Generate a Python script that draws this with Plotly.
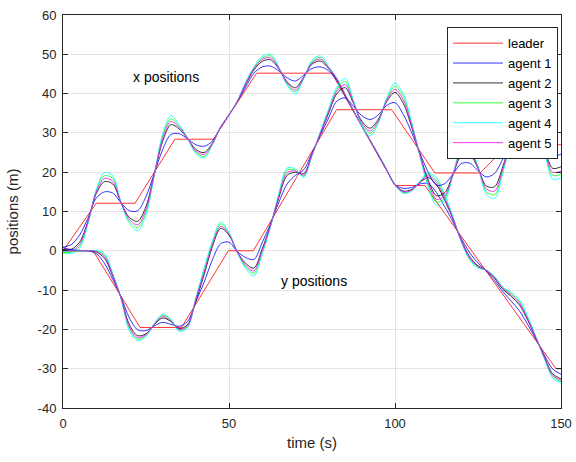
import plotly.graph_objects as go

# sample times (s) for the agent curves
t_samples = [0, 2.5, 5, 7.5, 10, 12.5, 15, 17.5, 20, 22.5,
             25, 27.5, 30, 32.5, 35, 37.5, 40, 42.5, 45, 47.5,
             50, 52.5, 55, 57.5, 60, 62.5, 65, 67.5, 70, 72.5,
             75, 77.5, 80, 82.5, 85, 87.5, 90, 92.5, 95, 97.5,
             100, 102.5, 105, 107.5, 110, 112.5, 115, 117.5, 120, 122.5,
             125, 127.5, 130, 132.5, 135, 137.5, 140, 142.5, 145, 147.5, 150]

# leader trajectories (corner points)
leader_t_x = [0, 10, 21.7, 33.7, 45.3, 58.3, 81, 100, 109, 148.5, 150]
leader_x = [0, 12.1, 12.1, 28.4, 28.4, 45.2, 45.2, 16.6, 16.6, -30, -30]
leader_t_y = [0, 9.1, 23.2, 35.7, 49.8, 57.3, 82.4, 99, 112, 125.6, 134.1, 150]
leader_y = [0, 0, -19.5, -19.5, 0, 0, 35.9, 35.9, 19.8, 19.8, 27, 27]

# x positions of the agents
agent1_x = [0.9, 1.6, 4.0, 8.3, 13.4, 15.0, 14.7, 12.2, 10.2, 10.2,
            13.8, 19.7, 25.7, 29.6, 29.8, 28.5, 27.0, 26.6, 27.9, 31.4,
            34.6, 37.9, 41.6, 45.2, 46.8, 47.0, 45.8, 44.0, 43.2, 44.7,
            46.4, 46.8, 45.8, 43.3, 39.4, 35.6, 31.8, 28.1, 24.3, 20.6,
            16.8, 15.9, 16.1, 17.0, 17.1, 14.8, 11.2, 7.3, 3.1, -0.5,
            -3.1, -5.1, -7.6, -10.4, -12.8, -15.3, -18.8, -22.6, -26.5, -30.1, -31.4]
agent2_x = [0.2, 0.4, 2.2, 7.5, 14.5, 17.6, 17.0, 12.2, 8.5, 7.5,
            11.3, 19.5, 27.8, 32.1, 31.0, 28.6, 25.8, 25.0, 27.4, 31.5,
            34.6, 38.0, 42.3, 46.0, 48.2, 48.6, 46.3, 43.0, 41.5, 44.2,
            47.5, 48.3, 46.4, 43.6, 39.6, 35.6, 31.8, 28.1, 24.4, 20.6,
            16.8, 15.2, 15.6, 17.4, 18.6, 16.8, 12.8, 8.0, 2.6, -1.5,
            -3.8, -5.0, -7.0, -9.8, -11.6, -13.8, -17.7, -22.3, -27.0, -31.3, -32.6]
agent3_x = [-0.6, -0.3, 1.1, 7.1, 15.2, 19.1, 18.4, 12.2, 7.5, 5.9,
            9.8, 19.4, 29.1, 33.6, 31.7, 28.7, 25.1, 24.0, 27.1, 31.6,
            34.6, 38.1, 42.7, 46.5, 49.0, 49.6, 46.6, 42.4, 40.5, 43.9,
            48.1, 49.2, 46.7, 43.8, 39.7, 35.6, 31.8, 28.1, 24.5, 20.6,
            16.8, 14.8, 15.3, 17.6, 19.5, 18.0, 13.7, 8.4, 2.3, -2.1,
            -4.2, -4.9, -6.7, -9.4, -10.9, -12.9, -17.1, -22.1, -27.3, -32.0, -33.3]
agent4_x = [-0.3, -0.7, 0.6, 6.8, 15.5, 19.9, 19.1, 12.2, 7.0, 5.1,
            9.1, 19.3, 29.7, 34.4, 32.1, 28.7, 24.7, 23.6, 27.0, 31.6,
            34.6, 38.1, 42.9, 46.8, 49.5, 50.0, 46.8, 42.1, 39.9, 43.8,
            48.5, 49.6, 46.9, 43.9, 39.8, 35.6, 31.8, 28.1, 24.5, 20.6,
            16.8, 14.6, 15.2, 17.7, 19.9, 18.6, 14.2, 8.6, 2.2, -2.4,
            -4.4, -4.9, -6.5, -9.3, -10.5, -12.5, -16.7, -22.0, -27.5, -32.4, -33.7]
agent5_x = [0.3, 0.0, 1.6, 7.3, 14.9, 18.4, 17.7, 12.2, 8.0, 6.6,
            10.5, 19.4, 28.5, 32.9, 31.4, 28.6, 25.4, 24.5, 27.2, 31.5,
            34.6, 38.0, 42.5, 46.3, 48.7, 49.1, 46.5, 42.7, 40.9, 44.0,
            47.8, 48.8, 46.6, 43.7, 39.7, 35.6, 31.8, 28.1, 24.4, 20.6,
            16.8, 15.0, 15.4, 17.5, 19.1, 17.4, 13.3, 8.2, 2.4, -1.8,
            -4.0, -5.0, -6.8, -9.6, -11.2, -13.3, -17.4, -22.2, -27.2, -31.7, -33.0]

# y positions of the agents
agent1_y = [0.8, 0.3, 0.1, 0.0, -0.7, -3.2, -7.3, -11.8, -17.1, -20.1,
            -20.3, -19.1, -18.2, -18.7, -19.2, -18.0, -13.0, -8.0, -2.3, 1.8,
            2.2, -0.2, -1.7, -2.2, 2.1, 6.9, 12.3, 17.0, 19.2, 20.6,
            24.9, 29.4, 33.8, 38.1, 38.9, 36.7, 34.4, 33.4, 34.6, 37.0,
            37.7, 34.7, 30.1, 24.9, 20.0, 16.7, 17.1, 19.6, 22.2, 22.3,
            20.4, 18.8, 19.7, 23.4, 27.5, 29.9, 30.4, 28.9, 26.4, 24.0, 24.6]
agent2_y = [0.3, 0.1, 0.0, 0.0, -0.3, -1.9, -6.5, -12.0, -18.8, -21.6,
            -21.1, -18.8, -17.1, -18.0, -19.8, -18.8, -12.8, -6.1, 1.1, 5.7,
            4.0, -0.3, -3.2, -4.4, 0.5, 6.5, 13.5, 19.2, 20.0, 19.6,
            24.5, 29.8, 35.0, 40.0, 41.5, 37.5, 33.0, 31.2, 33.5, 38.0,
            40.3, 37.5, 31.5, 24.5, 18.0, 14.0, 14.8, 19.5, 24.3, 24.5,
            21.0, 16.5, 16.3, 21.5, 28.0, 32.5, 33.5, 30.5, 25.8, 21.0, 21.4]
agent3_y = [-0.5, -0.2, 0.0, 0.0, 0.0, -1.1, -6.0, -12.1, -19.8, -22.5,
            -21.5, -18.6, -16.4, -17.6, -20.2, -19.3, -12.2, -5.0, 2.0, 6.8,
            4.5, -0.4, -4.1, -5.7, -0.5, 6.2, 14.2, 20.5, 20.5, 19.0,
            24.3, 30.1, 35.7, 41.1, 43.1, 37.9, 32.2, 29.9, 32.8, 38.6,
            41.9, 39.2, 32.3, 24.2, 16.8, 12.4, 13.4, 19.4, 25.6, 25.8,
            21.3, 15.1, 14.3, 20.4, 28.3, 34.0, 35.3, 31.5, 25.5, 19.2, 19.5]
agent4_y = [-0.2, 0.0, 0.0, 0.0, 0.1, -0.7, -5.8, -12.2, -20.4, -22.9,
            -21.8, -18.5, -16.1, -17.4, -20.5, -19.6, -12.0, -4.4, 2.5, 7.3,
            4.7, -0.4, -4.5, -6.4, -0.9, 6.1, 14.6, 21.1, 20.8, 18.7,
            24.2, 30.2, 36.1, 41.7, 43.9, 38.2, 31.8, 29.2, 32.5, 38.9,
            42.7, 40.0, 32.8, 24.1, 16.2, 11.6, 12.7, 19.4, 26.2, 26.5,
            21.5, 14.4, 13.3, 19.8, 28.4, 34.8, 36.2, 32.0, 25.3, 18.2, 18.6]
agent5_y = [0.0, 0.0, 0.0, 0.0, -0.2, -1.5, -6.2, -12.1, -19.4, -22.1,
            -21.3, -18.7, -16.7, -17.8, -20.0, -19.1, -12.3, -5.5, 1.6, 6.2,
            4.2, -0.3, -3.7, -5.1, 0.0, 6.4, 13.9, 19.9, 20.3, 19.3,
            24.4, 29.9, 35.4, 40.6, 42.3, 37.7, 32.6, 30.5, 33.1, 38.3,
            41.1, 38.4, 32.0, 24.4, 17.4, 13.1, 14.0, 19.5, 25.0, 25.2,
            21.2, 15.8, 15.2, 20.9, 28.2, 33.3, 34.5, 31.0, 25.6, 20.0, 20.3]

names = ["agent 1", "agent 2", "agent 3", "agent 4", "agent 5"]
colors = ["#0000ff", "#000000", "#00ff00", "#00ffff", "#ff00ff"]
agents_x = [agent1_x, agent2_x, agent3_x, agent4_x, agent5_x]
agents_y = [agent1_y, agent2_y, agent3_y, agent4_y, agent5_y]

x_ticks = [0, 50, 100, 150]
y_ticks = [-40, -30, -20, -10, 0, 10, 20, 30, 40, 50, 60]

FONT = "Arial, Liberation Sans, Helvetica, sans-serif"
AX = "#262626"
LW = 0.8

fig = go.Figure()

# x positions group
fig.add_trace(go.Scatter(x=leader_t_x, y=leader_x, mode="lines", name="leader",
                         legendgroup="leader", line=dict(color="#ff0000", width=LW)))
for name, col, vals in zip(names, colors, agents_x):
    fig.add_trace(go.Scatter(x=t_samples, y=vals, mode="lines", name=name, legendgroup=name,
                             line=dict(color=col, width=LW, shape="spline", smoothing=0.9)))

# y positions group
fig.add_trace(go.Scatter(x=leader_t_y, y=leader_y, mode="lines", name="leader",
                         legendgroup="leader", showlegend=False,
                         line=dict(color="#ff0000", width=LW)))
for name, col, vals in zip(names, colors, agents_y):
    fig.add_trace(go.Scatter(x=t_samples, y=vals, mode="lines", name=name, legendgroup=name,
                             showlegend=False,
                             line=dict(color=col, width=LW, shape="spline", smoothing=0.9)))

fig.add_annotation(x=31.0, y=44.3, text="x positions", showarrow=False,
                   font=dict(family=FONT, size=14, color="#000000"))
fig.add_annotation(x=75.6, y=-7.6, text="y positions", showarrow=False,
                   font=dict(family=FONT, size=14, color="#000000"))

axis_common = dict(
    showline=True, linecolor=AX, linewidth=1, mirror="ticks",
    ticks="inside", ticklen=5, tickcolor=AX,
    showgrid=True, gridcolor="#e3e3e3", gridwidth=1, zeroline=False,
    tickfont=dict(family=FONT, size=13, color=AX),
    ticklabeloverflow="allow", ticklabelstandoff=3,
    automargin=False,
)

fig.update_xaxes(range=[0, 150], tickvals=x_ticks, ticktext=[str(v) for v in x_ticks],
                 title=dict(text="time (s)", standoff=7,
                            font=dict(family=FONT, size=15, color=AX)),
                 **axis_common)
fig.update_yaxes(range=[-40, 60], tickvals=y_ticks, ticktext=[str(v) for v in y_ticks],
                 title=dict(text="positions (m)", font=dict(family=FONT, size=15, color=AX)),
                 **axis_common)

fig.update_layout(
    width=576, height=462,
    margin=dict(l=63, r=15, t=15, b=54),
    paper_bgcolor="white", plot_bgcolor="white",
    font=dict(family=FONT, size=13, color=AX),
    showlegend=True,
    legend=dict(x=0.994, y=0.969, xanchor="right", yanchor="top",
                bgcolor="white", bordercolor=AX, borderwidth=1,
                font=dict(family=FONT, size=13, color="#000000"),
                tracegroupgap=0, itemwidth=50),
)

# drop the page's default body margin so the figure fills the window exactly
fig.write_html("out.html", config={"displayModeBar": False},
               post_script="document.body.style.margin = '0';")
